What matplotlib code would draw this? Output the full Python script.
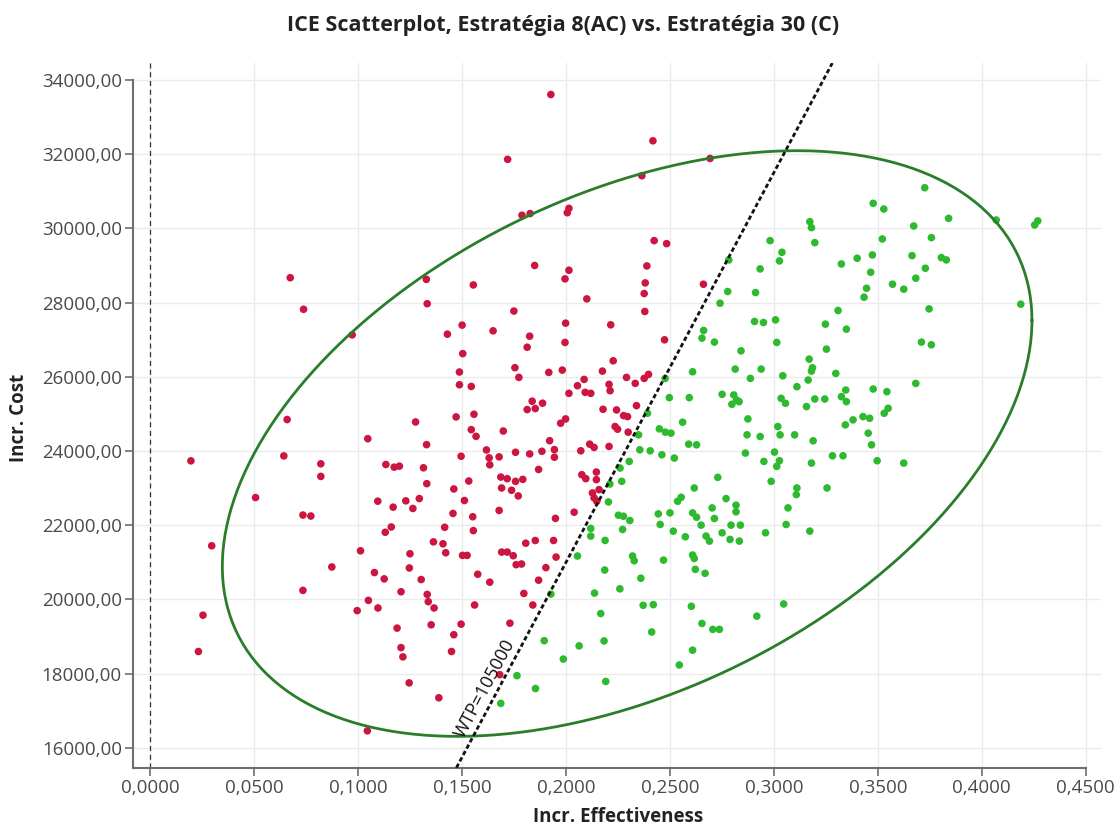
import numpy as np
import matplotlib
matplotlib.use("Agg")
import matplotlib.pyplot as plt
from matplotlib.ticker import FuncFormatter, FixedLocator

plt.rcParams['font.family'] = ['Open Sans', 'DejaVu Sans']

# ---- data ----
title = "ICE Scatterplot, Estratégia 8(AC) vs. Estratégia 30 (C)"
x_label = "Incr. Effectiveness"
y_label = "Incr. Cost"
wtp = 105000
wtp_label = "WTP=105000"

x_ticks = [0.0, 0.05, 0.10, 0.15, 0.20, 0.25, 0.30, 0.35, 0.40, 0.45]
y_ticks = [16000, 18000, 20000, 22000, 24000, 26000, 28000, 30000, 32000, 34000]

# pontos acima da linha WTP (vermelho)
red_x = [
    0.1927, 0.1719, 0.1788, 0.1827, 0.0673, 0.0737, 0.0971, 0.1328,
    0.2418, 0.2365, 0.2693, 0.2014, 0.2006, 0.2424, 0.2484, 0.2014, 0.1995, 0.2389,
    0.2381, 0.2376, 0.2100, 0.2379, 0.2661, 0.1998, 0.2215, 0.1995, 0.2474,
    0.1849, 0.1554, 0.1332, 0.1749, 0.1500, 0.1649, 0.1429, 0.1825, 0.1813, 0.1503,
    0.1754, 0.1773, 0.1917, 0.1487, 0.1487, 0.1544, 0.1837, 0.1887, 0.1813, 0.1852,
    0.1557, 0.1471, 0.1276, 0.1544, 0.1567, 0.1698, 0.1046,
    0.0195, 0.0295, 0.0253, 0.0231, 0.0506, 0.0642, 0.0658, 0.0734, 0.0772, 0.0734,
    0.0820, 0.0820, 0.1206, 0.1215, 0.1245, 0.1388, 0.1449, 0.1044, 0.1681,
    0.1329, 0.1495, 0.1617, 0.1630, 0.1633, 0.1678, 0.1757, 0.1825, 0.1884, 0.1921,
    0.1944, 0.1944, 0.1133, 0.1173, 0.1198, 0.1314, 0.1330, 0.1532, 0.1460, 0.1686,
    0.1717, 0.1757, 0.1792, 0.1690, 0.1738, 0.1770, 0.1868, 0.1094, 0.1168, 0.1229,
    0.1263, 0.1294, 0.1511, 0.1456, 0.1551, 0.1678, 0.1159, 0.1130, 0.1416, 0.1554,
    0.1362, 0.1408, 0.1421, 0.1011, 0.0873, 0.1502, 0.1524, 0.1690, 0.1717, 0.1746,
    0.1760, 0.1786, 0.1806, 0.1852, 0.1940, 0.1952, 0.1949, 0.1078, 0.1125, 0.1249,
    0.1246, 0.1303, 0.1575, 0.1633, 0.1868, 0.1903, 0.1206, 0.1049, 0.1095, 0.0995,
    0.1332, 0.1337, 0.1365, 0.1560, 0.1797, 0.1840, 0.1187, 0.1351, 0.1495, 0.1460,
    0.1730,
    0.1982, 0.2227, 0.2175, 0.2087, 0.2055, 0.2014, 0.2092, 0.2119, 0.2207, 0.2212,
    0.2291, 0.2333, 0.2376, 0.2397, 0.2339, 0.2178, 0.2243, 0.2277, 0.2296, 0.1998,
    0.1974, 0.2236, 0.2248, 0.2299, 0.2114, 0.2135, 0.2071, 0.2207, 0.2039, 0.2076,
    0.2095, 0.2146, 0.2146, 0.2159, 0.2127, 0.2135, 0.2148,
]
red_y = [
    33606, 31859, 30353, 30398, 28669, 27818, 27128, 28624,
    32359, 31417, 31883, 30538, 30421, 29668, 29587, 28870, 28637, 28986,
    28529, 28242, 28098, 27758, 28493, 27444, 27399, 26924, 26995,
    28998, 28474, 27968, 27770, 27391, 27237, 27147, 27093, 26795, 26623,
    26244, 25982, 26117, 26127, 25784, 25738, 25341, 25287, 25115, 25142,
    24989, 24917, 24781, 24574, 24393, 24537, 24330,
    23733, 21444, 19574, 18595, 22744, 23866, 24846, 22272, 22246, 20242,
    23653, 23314, 18700, 18450, 17749, 17348, 18595, 16457, 17971,
    24169, 23857, 24027, 23813, 23626, 23840, 23964, 23920, 23991, 24276,
    24036, 23831, 23635, 23563, 23590, 23546, 23118, 23189, 22975, 23296,
    23252, 23180, 23234, 23002, 22940, 22788, 23501, 22646, 22485, 22655,
    22450, 22717, 22664, 22316, 22227, 22396, 21951, 21808, 21942, 21853,
    21550, 21497, 21256, 21309, 20873, 21185, 21185, 21274, 21274, 21176,
    20935, 20953, 21514, 21586, 21586, 21140, 22183, 20722, 20552, 21229,
    20846, 20534, 20677, 20463, 20517, 20855, 20205, 19973, 19768, 19697,
    20134, 19938, 19768, 19848, 20160, 19848, 19225, 19314, 19332, 19047,
    19358,
    26179, 26430, 26152, 25928, 25758, 25553, 25579, 25553, 25794, 25624,
    25982, 25821, 25955, 26063, 25221, 25123, 25105, 24953, 24926, 24863,
    24747, 24658, 24586, 24506, 24183, 24094, 24004, 24121, 22349, 23360,
    23253, 23432, 23226, 22957, 22868, 22734, 22644,
]

# pontos abaixo da linha WTP (verde)
green_x = [
    0.1927, 0.1895, 0.1686, 0.1764, 0.1853,
    0.2982, 0.3039, 0.3027, 0.2783, 0.2934, 0.2778, 0.2912, 0.2741, 0.2907, 0.2950,
    0.3008, 0.2662, 0.2654, 0.2714, 0.3014,
    0.2842, 0.2609, 0.2814, 0.2939, 0.2887, 0.3043, 0.3111, 0.2751, 0.2807, 0.2821,
    0.2798, 0.2833, 0.3035, 0.3056, 0.2497, 0.2593, 0.2477, 0.2392, 0.2561, 0.2875,
    0.2449, 0.2478, 0.2505, 0.2349, 0.2871, 0.2934, 0.3019, 0.3030, 0.3100, 0.2590,
    0.2628, 0.2355, 0.2405, 0.2461, 0.2521, 0.2304, 0.2863, 0.3003, 0.2952, 0.3027,
    0.3014, 0.2260, 0.2730, 0.2987, 0.2268, 0.2211, 0.2617, 0.3111, 0.3108, 0.2204,
    0.2537, 0.2554, 0.2770, 0.2703, 0.2818, 0.2818, 0.3068, 0.2252, 0.2276, 0.2307,
    0.2444, 0.2500, 0.2609, 0.2628, 0.2714, 0.2650, 0.2794, 0.2839, 0.3059, 0.2272,
    0.2453, 0.2516, 0.2574, 0.2751, 0.2674, 0.2690, 0.2789, 0.2834, 0.2960, 0.2119,
    0.2119, 0.2188, 0.2055, 0.2320, 0.2609,
    0.2328, 0.2469, 0.2617, 0.2186, 0.2622, 0.2669, 0.2360, 0.2259, 0.2137, 0.2167,
    0.2371, 0.2420, 0.2603, 0.3047, 0.2918, 0.2654, 0.2706, 0.2738, 0.2412, 0.2183,
    0.2063, 0.2609, 0.2545, 0.1987, 0.2191,
    0.3726, 0.3478, 0.3529, 0.3841, 0.3173, 0.3181, 0.3197, 0.3673, 0.4255, 0.4270,
    0.4070, 0.3758, 0.3522, 0.3474, 0.3401, 0.3325, 0.3665, 0.3806, 0.3830, 0.3729,
    0.3466, 0.3683, 0.3571, 0.3625, 0.3446, 0.3434, 0.4188, 0.3747, 0.3309, 0.3248,
    0.3349, 0.3710, 0.3758, 0.3253,
    0.3170, 0.3186, 0.3181, 0.3165, 0.3298, 0.3683, 0.3346, 0.3325, 0.3349, 0.3197,
    0.3245, 0.3157, 0.3478, 0.3544, 0.3550, 0.3531, 0.3429, 0.3461, 0.3381, 0.3344,
    0.3454, 0.3470, 0.3189, 0.3282, 0.3333, 0.3181, 0.3497, 0.3625, 0.3256, 0.3173,
]
green_y = [
    20142, 18886, 17196, 17944, 17597,
    29668, 29354, 29121, 29148, 28906, 28296, 28269, 27982, 27489, 27462,
    27533, 27247, 27040, 26933, 26924,
    26698, 26134, 26206, 26206, 25955, 26027, 25732, 25526, 25508, 25374,
    25257, 25329, 25418, 25284, 25436, 25436, 25955, 25016, 24774, 24863,
    24595, 24506, 24479, 24434, 24434, 24389, 24658, 24434, 24434, 24183,
    24165, 24031, 24004, 23897, 23808, 23718, 23942, 23969, 23718, 23736,
    23584, 23539, 23288, 23181, 23181, 23109, 23002, 23002, 22823, 22626,
    22644, 22751, 22716, 22465, 22537, 22358, 22465, 22268, 22241, 22125,
    22304, 22331, 22331, 22214, 22179, 22000, 22000, 22000, 22018, 21884,
    22018, 21839, 21687, 21794, 21705, 21570, 21615, 21570, 21794, 21911,
    21705, 21588, 21168, 21168, 21195,
    21040, 21058, 21102, 20791, 20809, 20702, 20569, 20284, 20169, 19618,
    19840, 19858, 19813, 19876, 19547, 19351, 19191, 19191, 19120, 18880,
    18747, 18631, 18231, 18391, 17787,
    31094, 30673, 30520, 30269, 30179, 30018, 29614, 30063, 30090, 30200,
    30224, 29749, 29713, 29282, 29193, 29040, 29264, 29211, 29148, 28924,
    28816, 28655, 28493, 28359, 28385, 28143, 27955, 27829, 27785, 27417,
    27282, 26933, 26861, 26744,
    26474, 26242, 26152, 25911, 26089, 25821, 25642, 25463, 25329, 25400,
    25400, 25195, 25669, 25597, 25150, 25016, 24926, 24881, 24837, 24702,
    24479, 24165, 24273, 23870, 23870, 23673, 23736, 23673, 23002, 21839,
]

# elipse de confiança (centro, semi-eixos e correlação)
ell_center = (0.2294, 24200)
ell_spread = (0.1948, 7892)
ell_rho = 0.42

x_lim = (-0.0084, 0.4574)
y_lim = (15463, 34455)

# ---- figure ----
fig = plt.figure(figsize=(11.2, 8.27), dpi=100)
ax = fig.add_axes([0.1187, 0.0717, 0.8643, 0.8521])
ax.set_xlim(*x_lim)
ax.set_ylim(*y_lim)

ax.xaxis.set_major_locator(FixedLocator(x_ticks))
ax.yaxis.set_major_locator(FixedLocator(y_ticks))
ax.xaxis.set_major_formatter(FuncFormatter(lambda v, p: f"{v:.4f}".replace('.', ',')))
ax.yaxis.set_major_formatter(FuncFormatter(lambda v, p: f"{v:.2f}".replace('.', ',')))
ax.grid(True, color='#ebebeb', lw=1.0, zorder=0)
ax.set_axisbelow(True)

for side in ('top', 'right'):
    ax.spines[side].set_visible(False)
for side in ('left', 'bottom'):
    ax.spines[side].set_color('#6e6e6e')
    ax.spines[side].set_linewidth(1.5)
ax.spines['left'].set_bounds(y_lim[0], y_ticks[-1])
ax.spines['bottom'].set_bounds(x_lim[0], x_ticks[-1])
ax.tick_params(direction='out', length=6, width=1.2, color='#6e6e6e',
               labelcolor='#4a4a4a', labelsize=13.5, pad=2)

# linha vertical tracejada em x = 0
ax.axvline(0, color='#333333', lw=0.9, ls=(0, (4, 3)), zorder=2)

ax.scatter(red_x, red_y, s=30, color='#cc1540', edgecolors='none', zorder=3)
ax.scatter(green_x, green_y, s=30, color='#2eba2e', edgecolors='none', zorder=3)

# elipse
t = np.linspace(0, 2 * np.pi, 400)
ex = ell_center[0] + ell_spread[0] * np.cos(t)
ey = ell_center[1] + ell_spread[1] * (ell_rho * np.cos(t) + np.sqrt(1 - ell_rho ** 2) * np.sin(t))
ax.plot(ex, ey, color='#2a7d2a', lw=2.0, zorder=4)

# linha WTP
wx = np.array([y_lim[0], y_lim[1]]) / wtp
ax.plot(wx, wx * wtp, color='#111111', lw=2.0, ls=(0, (1.6, 1.0)), zorder=5)

p1 = ax.transData.transform((wx[0], wx[0] * wtp))
p2 = ax.transData.transform((wx[1], wx[1] * wtp))
angle = np.degrees(np.arctan2(p2[1] - p1[1], p2[0] - p1[0]))
ax.text(0.1608, 17600, wtp_label, rotation=angle, rotation_mode='anchor',
        ha='center', va='center', fontsize=13, color='#111111', zorder=6)

fig.text(0.503, 0.969, title, ha='center', va='center', fontsize=15.5,
         fontweight='bold', color='#222222')
fig.text(0.552, 0.012, x_label, ha='center', va='center', fontsize=13.5,
         fontweight='bold', color='#222222')
fig.text(0.017, 0.495, y_label, ha='center', va='center', rotation=90,
         fontsize=13.5, fontweight='bold', color='#222222')

fig.savefig("out.png", dpi=100)
